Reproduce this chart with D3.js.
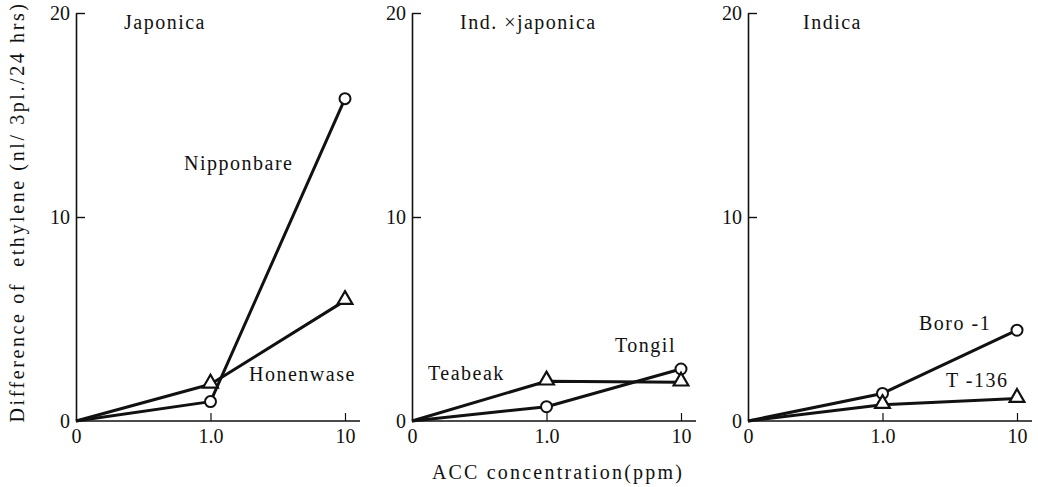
<!DOCTYPE html>
<html>
<head>
    <title>ACC ethylene response</title>
    <script src="https://d3js.org/d3.v7.min.js"></script>
    <style>
        body { margin: 0; background: #ffffff; }
        svg { display: block; }
    </style>
</head>
<body>
<div id="chart"></div>
<script>
    // data
    const doses = ["0", "1.0", "10"];
    const panelNames = ["Japonica", "Ind. \u00d7japonica", "Indica"];
    const circleNames = ["Nipponbare", "Tongil", "Boro -1"];
    const circleValues = [[0, 0.95, 15.8], [0, 0.7, 2.55], [0, 1.35, 4.45]];
    const triangleNames = ["Honenwase", "Teabeak", "T -136"];
    const triangleValues = [[0, 1.8, 5.9], [0, 1.95, 1.9], [0, 0.8, 1.1]];
    const yTicks = [0, 10, 20];

    const W = 1038, H = 487;
    const panelLeft = [76, 412, 748],
        panelWidth = 269,
        plotTop = 13, plotBottom = 421;
    const serif = "'Liberation Serif', 'DejaVu Serif', serif";

    // label placement per panel (x in px from axis, y in data units)
    const circleLabelPos = [[108, 12.3], [203, 3.4], [171, 4.45]];
    const triangleLabelPos = [[173, 1.95], [16, 2.0], [198, 1.65]];

    const svg = d3.select("#chart").append("svg")
        .attr("width", W).attr("height", H);

    function label(sel, txt) {
        return sel.append("text")
            .style("font-family", serif)
            .style("font-size", "20px")
            .style("letter-spacing", "1.5px")
            .style("white-space", "pre")
            .attr("fill", "#111")
            .text(txt);
    }

    const y = d3.scaleLinear().domain([0, 20]).range([plotBottom, plotTop]);

    const line = d3.line();

    panelNames.forEach(function(name, p) {
        const g = svg.append("g").attr("transform", "translate(" + panelLeft[p] + ",0)");
        const x = d3.scalePoint().domain(doses).range([0, panelWidth]);

        // y axis, ticks pointing inward
        const ya = g.append("g")
            .call(d3.axisLeft(y).tickValues(yTicks).tickSize(-9).tickPadding(6).tickSizeOuter(0));
        ya.select(".domain").attr("stroke", "#111").attr("stroke-width", 1.6);
        ya.selectAll(".tick line").attr("stroke", "#111").attr("stroke-width", 1.4);
        ya.selectAll(".tick").filter(d => d === 0).select("line").remove();
        ya.selectAll(".tick text").style("font-family", serif).style("font-size", "20px").attr("fill", "#111");

        // x axis, ticks pointing up
        const xa = g.append("g")
            .attr("transform", "translate(0," + plotBottom + ")")
            .call(d3.axisBottom(x).tickSize(-8).tickPadding(8).tickSizeOuter(0));
        xa.select(".domain").attr("d", "M0,0H" + (panelWidth + 15)).attr("stroke", "#111").attr("stroke-width", 1.6);
        xa.selectAll(".tick line").attr("stroke", "#111").attr("stroke-width", 1.2);
        xa.selectAll(".tick").filter(d => d === "0").select("line").remove();
        xa.selectAll(".tick text").style("font-family", serif).style("font-size", "20px").attr("fill", "#111");

        label(g, name).attr("x", p === 2 ? 55 : 48).attr("y", 29);

        const cPts = doses.map((d, i) => [x(d), y(circleValues[p][i])]);
        const tPts = doses.map((d, i) => [x(d), y(triangleValues[p][i])]);

        [cPts, tPts].forEach(function(pts) {
            g.append("path").attr("d", line(pts))
                .attr("fill", "none").attr("stroke", "#111")
                .attr("stroke-width", 3).attr("stroke-linejoin", "round");
        });

        g.selectAll(".circ").data(cPts.slice(1)).enter().append("circle")
            .attr("cx", d => d[0]).attr("cy", d => d[1]).attr("r", 5.5)
            .attr("fill", "#fff").attr("stroke", "#111").attr("stroke-width", 2);

        const tri = d3.symbol().type(d3.symbolTriangle).size(95);
        g.selectAll(".tri").data(tPts.slice(1)).enter().append("path")
            .attr("d", tri)
            .attr("transform", d => "translate(" + d[0] + "," + (d[1] - 1) + ")")
            .attr("fill", "#fff").attr("stroke", "#111").attr("stroke-width", 2.2);

        label(g, circleNames[p])
            .attr("x", circleLabelPos[p][0]).attr("y", y(circleLabelPos[p][1]));
        label(g, triangleNames[p])
            .attr("x", triangleLabelPos[p][0]).attr("y", y(triangleLabelPos[p][1]));
    });

    label(svg, "Difference of  ethylene (nl/ 3pl./24 hrs)")
        .style("letter-spacing", "2.6px")
        .attr("transform", "translate(24,212) rotate(-90)")
        .attr("text-anchor", "middle");

    label(svg, "ACC concentration(ppm)")
        .style("letter-spacing", "2.2px")
        .attr("x", 558).attr("y", 479)
        .attr("text-anchor", "middle");
</script>
</body>
</html>
